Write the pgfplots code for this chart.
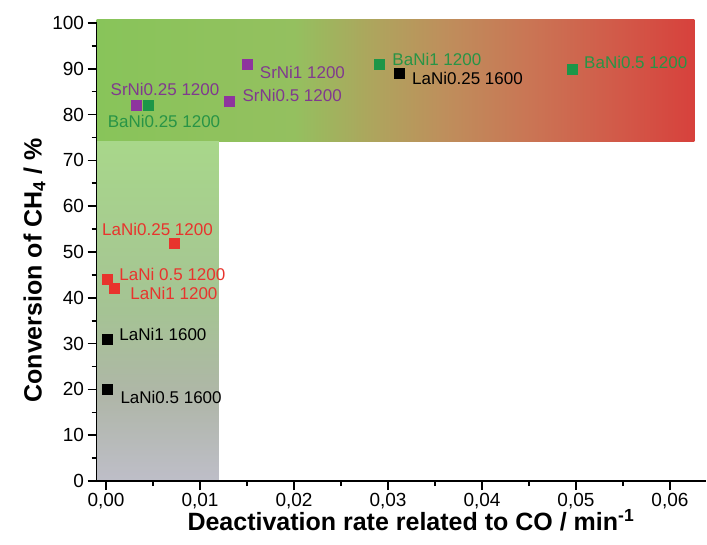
\documentclass[border=0pt]{standalone}
\usepackage{pgfplots}
\pgfplotsset{compat=1.18}
\usepackage{fontspec}
\setmainfont{Liberation Sans}

\definecolor{srpurple}{RGB}{142,52,158}
\definecolor{srtext}{RGB}{128,58,142}
\definecolor{bagreen}{RGB}{28,150,72}
\definecolor{batext}{RGB}{40,148,70}
\definecolor{lared}{RGB}{232,52,45}

% colour stops of the two background bands
\definecolor{hA}{RGB}{136,196,90}
\definecolor{hB}{RGB}{148,192,95}
\definecolor{hC}{RGB}{175,163,93}
\definecolor{hD}{RGB}{190,143,92}
\definecolor{hE}{RGB}{202,116,84}
\definecolor{hF}{RGB}{210,88,72}
\definecolor{hG}{RGB}{215,65,60}
\definecolor{vA}{RGB}{190,190,200}
\definecolor{vB}{RGB}{175,182,168}
\definecolor{vC}{RGB}{165,195,148}
\definecolor{vD}{RGB}{168,215,138}

\pgfdeclarehorizontalshading{highband}{100bp}{
  color(0bp)=(hA); color(25bp)=(hA); color(41.5bp)=(hB); color(48.5bp)=(hC);
  color(54bp)=(hD); color(61.5bp)=(hE); color(69bp)=(hF); color(75bp)=(hG); color(100bp)=(hG)}
\pgfdeclareverticalshading{lowband}{100bp}{
  color(0bp)=(vA); color(25bp)=(vA); color(37.5bp)=(vB); color(50bp)=(vC);
  color(75bp)=(vD); color(100bp)=(vD)}

\newcommand\lab{\fontsize{17}{20}\selectfont}
\newcommand\tck{\fontsize{19}{22}\selectfont}
\newcommand\axl{\fontsize{25}{28}\selectfont\bfseries}

\begin{document}
\begin{tikzpicture}
\begin{axis}[
  scale only axis,
  width=609.1pt, height=458pt,
  xmin=-0.001, xmax=0.0638,
  ymin=0, ymax=100,
  clip=false,
  axis on top,
  axis x line=bottom, axis y line=left,
  axis line style={-, line width=1.6pt, black},
  every tick/.style={line width=1.6pt, black},
  tick align=outside,
  major tick length=9pt, minor tick length=5pt,
  xtick={0,0.01,0.02,0.03,0.04,0.05,0.06},
  ytick={0,10,...,100},
  minor x tick num=1, minor y tick num=1,
  /pgf/number format/assume math mode=true,
  xticklabel style={font=\tck, /pgf/number format/.cd, fixed, fixed zerofill, precision=2, use comma},
  yticklabel style={font=\tck, /pgf/number format/.cd, fixed, precision=0},
  scaled x ticks=false,
  xlabel={Deactivation rate related to CO / min\textsuperscript{-1}},
  ylabel={Conversion of CH\textsubscript{4} / \%},
  xlabel style={font=\axl, at={(axis description cs:0.516,-0.085)}, anchor=center},
  ylabel style={font=\axl, at={(axis description cs:-0.102,0.46)}, anchor=center, rotate=0},
]
% background bands
\path[shading=highband] (axis cs:-0.001,74.2) rectangle (axis cs:0.0626,100.8);
\path[shading=lowband]  (axis cs:-0.001,0) rectangle (axis cs:0.012,74.2);

% Sr series, calcined at 1200
\addplot[only marks, mark=square*, mark size=5pt, color=srpurple] coordinates {
  (0.0032,82) (0.0150,91) (0.0131,83)
};
% Ba series, calcined at 1200
\addplot[only marks, mark=square*, mark size=5pt, color=bagreen] coordinates {
  (0.0045,82) (0.0291,91) (0.0496,90)
};
% La series, calcined at 1600
\addplot[only marks, mark=square*, mark size=5pt, color=black] coordinates {
  (0.0312,89) (0.0001,31) (0.0001,20)
};
% La series, calcined at 1200
\addplot[only marks, mark=square*, mark size=5pt, color=lared] coordinates {
  (0.0073,52) (0.0001,44) (0.0009,42)
};

% sample names
\node[font=\lab, text=srtext] at (axis cs:0.00628,85.6) {SrNi0.25 1200};
\node[font=\lab, text=batext] at (axis cs:0.00617,78.6) {BaNi0.25 1200};
\node[font=\lab, text=srtext, anchor=west] at (axis cs:0.0160,89.3) {SrNi1 1200};
\node[font=\lab, text=srtext, anchor=west] at (axis cs:0.01415,84.1) {SrNi0.5 1200};
\node[font=\lab, text=batext, anchor=west] at (axis cs:0.0301,92.1) {BaNi1 1200};
\node[font=\lab, text=black, anchor=west] at (axis cs:0.0322,88.0) {LaNi0.25 1600};
\node[font=\lab, text=batext, anchor=west] at (axis cs:0.0505,91.3) {BaNi0.5 1200};
\node[font=\lab, text=lared] at (axis cs:0.00548,55.0) {LaNi0.25 1200};
\node[font=\lab, text=lared, anchor=west] at (axis cs:0.00106,45.0) {LaNi 0.5 1200};
\node[font=\lab, text=lared, anchor=west] at (axis cs:0.00223,41.0) {LaNi1 1200};
\node[font=\lab, text=black, anchor=west] at (axis cs:0.00106,32.1) {LaNi1 1600};
\node[font=\lab, text=black, anchor=west] at (axis cs:0.00117,18.3) {LaNi0.5 1600};
\end{axis}
\pgfresetboundingbox
\path[use as bounding box] ([xshift=-96.6pt,yshift=-63pt]current axis.south west) rectangle ++(707pt,544pt);
\end{tikzpicture}
\end{document}
